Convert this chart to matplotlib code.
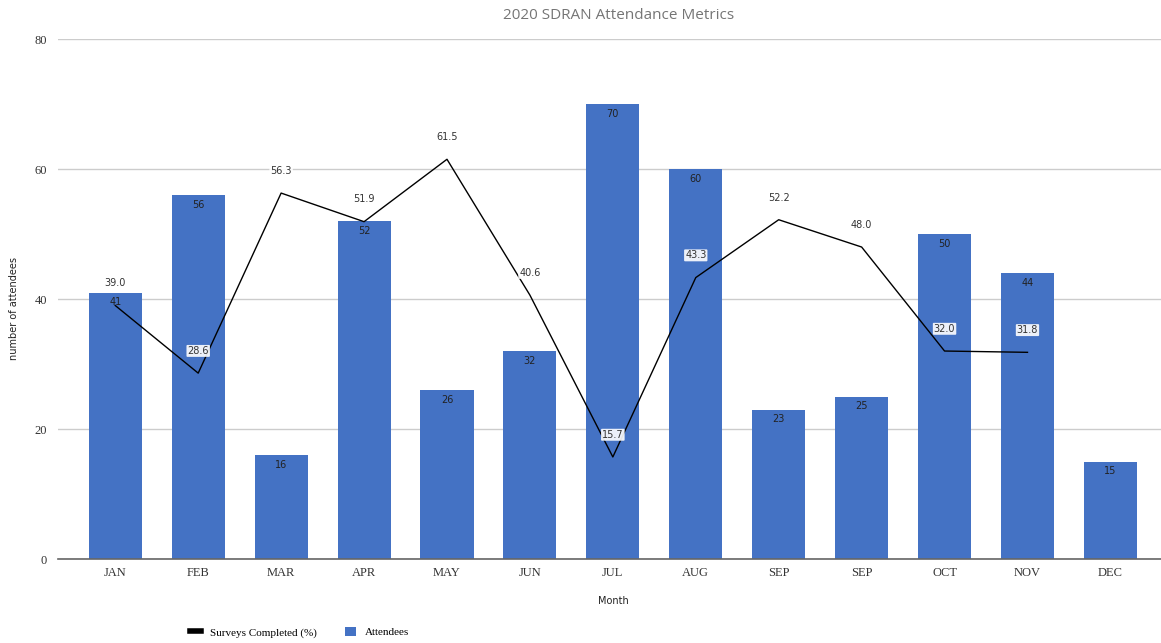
import matplotlib
matplotlib.use("Agg")
import matplotlib.pyplot as plt
from matplotlib.lines import Line2D
from matplotlib.patches import Patch

months = ["JAN", "FEB", "MAR", "APR", "MAY", "JUN", "JUL", "AUG", "SEP", "SEP", "OCT", "NOV", "DEC"]
attendees = [41, 56, 16, 52, 26, 32, 70, 60, 23, 25, 50, 44, 15]
surveys = [39.0, 28.6, 56.3, 51.9, 61.5, 40.6, 15.7, 43.3, 52.2, 48.0, 32.0, 31.8]

fig = plt.figure(figsize=(11.61, 6.43), dpi=100)
ax = fig.add_axes([0.05, 0.1306, 0.95, 0.8087])

x = list(range(len(months)))
bars = ax.bar(x, attendees, width=0.64, color="#4472C4", zorder=2)
for xi, v in zip(x, attendees):
    ax.annotate(str(v), (xi, v), xytext=(0, -7), textcoords="offset points",
                ha="center", va="center", fontsize=7, color="#222222", zorder=5,
                family="DejaVu Sans")

xs = list(range(len(surveys)))
ax.plot(xs, surveys, color="black", lw=1.0, zorder=3)
for xi, v in zip(xs, surveys):
    ax.annotate(f"{v:.1f}", (xi, v), xytext=(0, 16), textcoords="offset points",
                ha="center", va="center", fontsize=7, color="#333333", zorder=6,
                family="DejaVu Sans",
                bbox=dict(boxstyle="round,pad=0.1", fc="white", ec="none", alpha=0.9))

ax.set_ylim(0, 80)
ax.set_yticks([0, 20, 40, 60, 80])
ax.set_xlim(-0.69, 12.61)
ax.set_xticks(x)
ax.set_xticklabels(months, family="Liberation Serif", fontsize=9, color="#333333")
for lab in ax.get_yticklabels():
    lab.set_family("Liberation Serif")
    lab.set_fontsize(9)
    lab.set_color("#333333")
ax.tick_params(length=0, pad=6)
ax.tick_params(axis="y", pad=8)
ax.grid(axis="y", color="#cccccc", lw=1, zorder=0)
ax.set_axisbelow(True)
for s in ["top", "right", "left"]:
    ax.spines[s].set_visible(False)
ax.spines["bottom"].set_color("#666666")
ax.spines["bottom"].set_linewidth(1.2)

fig.text(0.533, 0.976, "2020 SDRAN Attendance Metrics", fontsize=11, color="#757575",
         family="Open Sans", ha="center", va="center")
fig.text(0.528, 0.065, "Month", fontsize=7, family="DejaVu Sans", color="#222222",
         ha="center", va="center")
fig.text(0.012, 0.52, "number of attendees", fontsize=7, family="DejaVu Sans",
         color="#222222", rotation=90, ha="center", va="center")

handles = [Line2D([0], [0], color="black", lw=4),
           Patch(facecolor="#4472C4", edgecolor="none")]
leg = fig.legend(handles, ["Surveys Completed (%)", "Attendees"], loc="center",
                 bbox_to_anchor=(0.258, 0.017), ncol=2, frameon=False,
                 prop={"family": "Liberation Serif", "size": 8},
                 handlelength=1.0, handleheight=1.0, handletextpad=0.8, columnspacing=2.6)

fig.savefig("out.png", dpi=100)
